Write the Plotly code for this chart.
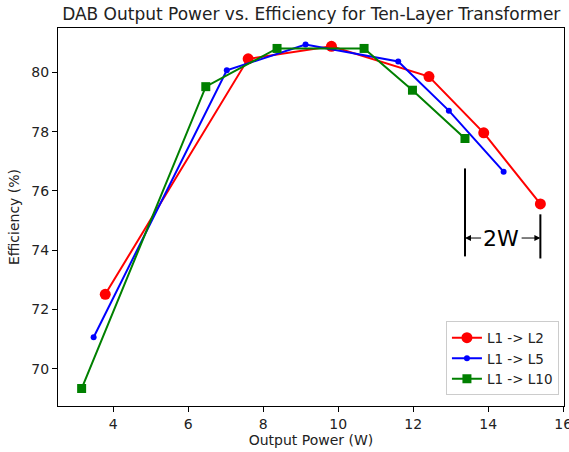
import plotly.graph_objects as go

# Data
l2_x = [3.79, 7.60, 9.82, 12.42, 13.88, 15.39]
l2_y = [72.51, 80.46, 80.88, 79.86, 77.96, 75.56]

l5_x = [3.48, 7.03, 9.13, 11.60, 12.95, 14.41]
l5_y = [71.06, 80.07, 80.94, 80.37, 78.71, 76.65]

l10_x = [3.16, 6.47, 8.37, 10.69, 11.98, 13.38]
l10_y = [69.33, 79.52, 80.81, 80.81, 79.40, 77.77]

series_names = ["L1 -> L2", "L1 -> L5", "L1 -> L10"]
x_ticks = [4, 6, 8, 10, 12, 14, 16]
y_ticks = [70, 72, 74, 76, 78, 80]

# Annotation ("2W" span between last L10 point and last L2 point)
span_label = "2W"
left_line_y = [73.79, 76.76]
right_line_y = [73.72, 75.21]
arrow_y = 74.41
label_x = 14.35

FONT = "DejaVu Sans"

fig = go.Figure()
fig.add_trace(go.Scatter(x=l2_x, y=l2_y, mode="lines+markers", name=series_names[0],
                         line=dict(color="#ff0000", width=2),
                         marker=dict(symbol="circle", size=11, color="#ff0000")))
fig.add_trace(go.Scatter(x=l5_x, y=l5_y, mode="lines+markers", name=series_names[1],
                         line=dict(color="#0000ff", width=2),
                         marker=dict(symbol="circle", size=6, color="#0000ff")))
fig.add_trace(go.Scatter(x=l10_x, y=l10_y, mode="lines+markers", name=series_names[2],
                         line=dict(color="#008000", width=2),
                         marker=dict(symbol="square", size=9, color="#008000")))

xl = l10_x[-1]
xr = l2_x[-1]
fig.add_shape(type="line", xref="x", yref="y", x0=xl, x1=xl, y0=left_line_y[0], y1=left_line_y[1],
              line=dict(color="black", width=2))
fig.add_shape(type="line", xref="x", yref="y", x0=xr, x1=xr, y0=right_line_y[0], y1=right_line_y[1],
              line=dict(color="black", width=2))

fig.add_annotation(x=label_x, y=arrow_y, xref="x", yref="y", text=span_label, showarrow=False,
                   font=dict(family=FONT, size=22, color="black"))
fig.add_annotation(x=xl, y=arrow_y, ax=label_x - 0.5, ay=arrow_y, xref="x", yref="y",
                   axref="x", ayref="y", text="", showarrow=True, arrowhead=2,
                   arrowsize=1.2, arrowwidth=1, arrowcolor="black")
fig.add_annotation(x=xr, y=arrow_y, ax=label_x + 0.5, ay=arrow_y, xref="x", yref="y",
                   axref="x", ayref="y", text="", showarrow=True, arrowhead=2,
                   arrowsize=1.2, arrowwidth=1, arrowcolor="black")

axis_common = dict(showline=True, linecolor="black", linewidth=1, mirror=True,
                   ticks="outside", ticklen=5, tickwidth=1, tickcolor="black",
                   showgrid=False, zeroline=False, automargin=False,
                   ticklabeloverflow="allow",
                   tickfont=dict(family=FONT, size=14, color="#222222"))

fig.update_xaxes(range=[2.53, 16.02], tickvals=x_ticks,
                 title=dict(text="Output Power (W)", font=dict(family=FONT, size=14, color="#222222"),
                            standoff=4),
                 **axis_common)
fig.update_yaxes(range=[68.74, 81.5], tickvals=y_ticks,
                 title=dict(text="Efficiency (%)", font=dict(family=FONT, size=14, color="#222222"),
                            standoff=8),
                 **axis_common)

fig.update_layout(
    width=569, height=452,
    margin=dict(l=58, r=5, t=28, b=46),
    paper_bgcolor="white", plot_bgcolor="white",
    title=dict(text="DAB Output Power vs. Efficiency for Ten-Layer Transformer",
               x=0.547, xanchor="center", y=0.97, yanchor="middle",
               font=dict(family=FONT, size=17, color="#222222")),
    legend=dict(x=0.99, y=0.028, xanchor="right", yanchor="bottom",
                bgcolor="white", bordercolor="#cccccc", borderwidth=1,
                font=dict(family=FONT, size=13.5, color="#222222"),
                itemwidth=30, tracegroupgap=0),
    showlegend=True,
)

fig.write_html("out.html", config={"displayModeBar": False},
               post_script="document.body.style.margin='0';document.body.style.overflow='hidden';")
